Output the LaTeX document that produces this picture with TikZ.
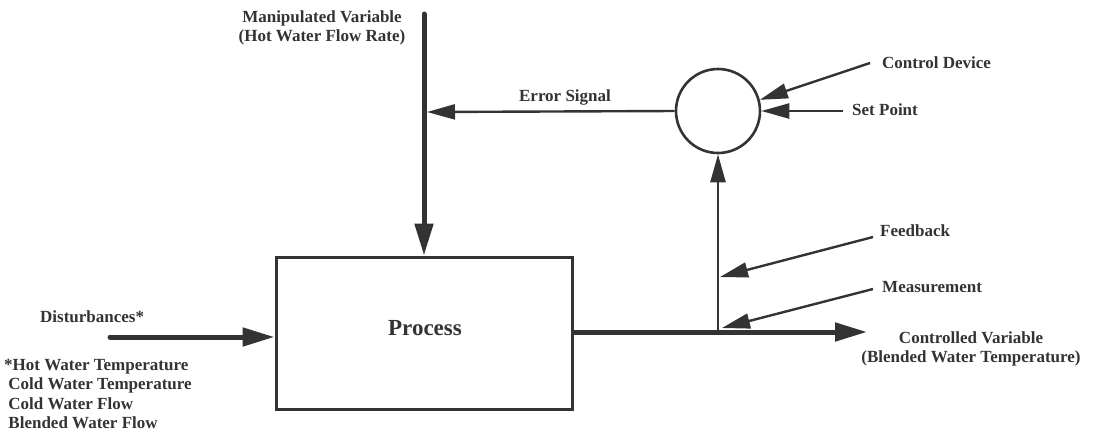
\documentclass[tikz,border=0pt]{standalone}
\usepackage{fontspec}
\setmainfont{Liberation Serif}
\usetikzlibrary{arrows.meta}
\definecolor{ink}{HTML}{333333}
\tikzset{
  lbl/.style={font=\fontsize{17}{19}\selectfont\bfseries, text=ink, inner sep=0pt},
  bigtip/.style={-{Triangle[length=32pt,width=18pt]}},
  smalltip/.style={-{Triangle[length=28pt,width=15pt]}},
  thickline/.style={draw=ink, line width=5pt},
  thinline/.style={draw=ink, line width=2.4pt},
}
\begin{document}
\begin{tikzpicture}[x=1pt,y=-1pt]
\useasboundingbox (0,0) rectangle (1095,437);
% blocks
\node[draw=ink, line width=3pt, minimum width=296pt, minimum height=152pt, inner sep=0pt] (proc) at (424,333) {};
\node[lbl, font=\fontsize{23}{25}\selectfont\bfseries] (proctxt) at (425,328) {Process};
\node[draw=ink, line width=2.6pt, circle, minimum size=84pt, inner sep=0pt] (cmp) at (718,111) {};
% free ends
\coordinate (mvtop) at (424,14);
\coordinate (ej) at (427,112);
\coordinate (dst) at (110,337);
\coordinate (out) at (867,332);
\coordinate (tap) at (718,332);
\coordinate (cd) at (870,63);
\coordinate (sp) at (843,111);
\coordinate (fb) at (873,237);
\coordinate (fbt) at (720,277);
\coordinate (ms) at (873,289);
\coordinate (mst) at (722,328);
% connectors
\draw[thickline, line cap=round, bigtip] (mvtop) -- (proc.north);
\draw[thinline, smalltip] (cmp.west) -- (ej);
\draw[thickline, line cap=round, bigtip] (dst) -- (dst -| proc.west);
\draw[thickline, bigtip] (proc.east |- out) -- (out);
\draw[thinline, smalltip] (tap) -- (cmp.south);
\draw[thinline, smalltip] (cd) -- (cmp.15);
\draw[thinline, smalltip] (sp) -- (cmp.east);
\draw[thinline, smalltip] (fb) -- (fbt);
\draw[thinline, smalltip] (ms) -- (mst);
% labels
\node[lbl, align=center] (mvl) at (322,28) {Manipulated Variable\\(Hot Water Flow Rate)};
\node[lbl] (esl) at (565,97) {Error Signal};
\node[lbl, anchor=west] (cdl) at (882,63) {Control Device};
\node[lbl, anchor=west] (spl) at (852,110) {Set Point};
\node[lbl, anchor=west] (fbl) at (880,231) {Feedback};
\node[lbl, anchor=west] (msl) at (882,287) {Measurement};
\node[lbl, align=center] (cvl) at (971,349) {Controlled Variable\\(Blended Water Temperature)};
\node[lbl, anchor=west] (dsl) at (40,317) {Disturbances*};
\node[lbl, align=left, anchor=north west, font=\fontsize{17}{19.5}\selectfont\bfseries] (dlist) at (4,359) {*Hot Water Temperature\\\ Cold Water Temperature\\\ Cold Water Flow\\\ Blended Water Flow};
\end{tikzpicture}
\end{document}
